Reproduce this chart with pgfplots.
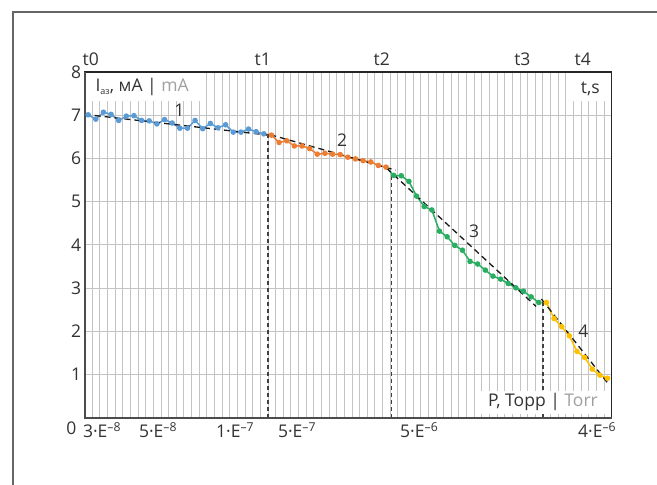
\documentclass[border=0pt]{standalone}
\usepackage{pgfplots}
\pgfplotsset{compat=1.18}
\usepackage{pgfplotstable}
\usepackage{fontspec}
\setmainfont{Open Sans}
\definecolor{cblue}{HTML}{5B9BD5}
\definecolor{corange}{HTML}{ED7D31}
\definecolor{cgreen}{HTML}{27AE60}
\definecolor{cyellow}{HTML}{FFC000}
\definecolor{txt}{HTML}{333333}
\definecolor{txtg}{HTML}{A0A0A0}
\definecolor{gridc}{HTML}{C4C4C4}
\newcommand{\fsz}{\fontsize{17.5bp}{21bp}\selectfont}
\pgfplotstableread{
x y
0.45 7.01
1.45 6.91
2.45 7.07
3.45 7.02
4.45 6.88
5.45 6.98
6.45 6.99
7.45 6.88
8.45 6.87
9.45 6.80
10.45 6.90
11.45 6.82
12.45 6.70
13.45 6.70
14.45 6.88
15.45 6.69
16.45 6.81
17.45 6.71
18.45 6.78
19.45 6.61
20.45 6.61
21.45 6.68
22.45 6.62
23.45 6.57
}\blue
\pgfplotstableread{
x y
23.45 6.57
24.45 6.54
25.45 6.37
26.45 6.41
27.45 6.29
28.45 6.29
29.45 6.23
30.45 6.10
31.45 6.12
32.45 6.10
33.45 6.09
34.45 6.03
35.45 5.99
36.45 5.95
37.45 5.92
38.45 5.84
39.45 5.80
}\orange
\pgfplotstableread{
x y
39.45 5.80
40.45 5.61
41.45 5.60
42.45 5.47
43.45 5.13
44.45 4.89
45.45 4.81
46.45 4.32
47.45 4.19
48.45 3.99
49.45 3.88
50.45 3.62
51.45 3.56
52.45 3.42
53.45 3.28
54.45 3.21
55.45 3.11
56.45 3.01
57.45 2.93
58.45 2.80
59.45 2.67
}\green
\pgfplotstableread{
x y
59.45 2.67
60.45 2.67
61.45 2.30
62.45 2.11
63.45 1.90
64.45 1.54
65.45 1.40
66.45 1.13
67.45 0.99
68.45 0.92
}\yellow
\begin{document}
\begin{tikzpicture}[x=1bp,y=1bp]
\useasboundingbox (0,0) rectangle (657,485);
\draw[line width=1.6bp, color=black!60] (13,-5) -- (13,473) -- (670,473);
\begin{axis}[
  at={(84.7bp,67bp)}, anchor=south west,
  scale only axis, width=527bp, height=346bp,
  xmin=0, xmax=69, ymin=0, ymax=8,
  clip=false,
  font=\fsz,
  /pgf/number format/assume math mode=true,
  ticklabel style={font=\fsz, text=txt},
  xticklabel style={yshift=-1bp},
  xtick={2.27,9.6,19.7,27.8,43.8,67.1},
  xticklabels={3·E\textsuperscript{–8},5·E\textsuperscript{–8},1·E\textsuperscript{–7},5·E\textsuperscript{–7},5·E\textsuperscript{–6},4·E\textsuperscript{–6}},
  minor xtick={1,...,68},
  xminorgrids=true, xmajorgrids=false,
  ytick={0,...,8},
  yticklabels={,1,2,3,4,5,6,7,8},
  ymajorgrids=true,
  major tick length=0, minor tick length=0,
  grid style={line width=1bp, gridc},
  minor grid style={line width=1bp, gridc},
  axis line style={line width=1.3bp, black!85},
  every axis plot/.append style={line width=1.5bp},
]
\addplot[cblue, mark=*, mark size=2bp] table {\blue};
\addplot[corange, mark=*, mark size=2bp, mark phase=2] table {\orange};
\addplot[cgreen, mark=*, mark size=2bp, mark phase=2] table {\green};
\addplot[cyellow, mark=*, mark size=2bp, mark phase=2] table {\yellow};
% trend lines
\addplot[black!90, line width=1.3bp, dash pattern=on 6bp off 4bp] coordinates {(0,7.02) (24.6,6.53)};
\addplot[black!90, line width=1.3bp, dash pattern=on 6bp off 4bp] coordinates {(24.3,6.55) (40.7,5.73)};
\addplot[black!90, line width=1.3bp, dash pattern=on 6bp off 4bp] coordinates {(39.5,5.78) (59.1,2.58)};
\addplot[black!90, line width=1.3bp, dash pattern=on 6bp off 4bp] coordinates {(59.8,2.75) (68.6,0.78)};
% vertical dashed markers
\addplot[black!75, line width=1.2bp, dash pattern=on 4bp off 3bp] coordinates {(24,0) (24,6.53)};
\addplot[black!75, line width=1.2bp, dash pattern=on 4bp off 3bp] coordinates {(40.2,0) (40.2,5.66)};
\addplot[black!75, line width=1.2bp, dash pattern=on 4bp off 3bp] coordinates {(60,0) (60,2.69)};
% label boxes
\fill[white] (axis cs:0.2,7.97) rectangle (axis cs:15.1,7.32);
\node[anchor=west, text=txt, inner sep=0] at (axis cs:1.4,7.66) {I\raisebox{-3bp}{\fontsize{9bp}{9bp}\selectfont аз}, мА | \textcolor{txtg}{mA}};
\fill[white] (axis cs:63.9,7.97) rectangle (axis cs:68.2,7.33);
\node[text=txt, inner sep=0] at (axis cs:66.2,7.62) {t,s};
\fill[white] (axis cs:51.8,0.62) rectangle (axis cs:68.5,0.09);
\node[text=txt, inner sep=0] at (axis cs:60.0,0.36) {P, Торр | \textcolor{txtg}{Torr}};
% zero label on y axis
\node[text=txt, anchor=east, inner sep=0, font=\fsz] at ([xshift=-8bp,yshift=-10bp]axis cs:0,0) {0};
% segment numbers
\node[text=txt, inner sep=0] at (axis cs:12.4,7.12) {1};
\node[text=txt, inner sep=0] at (axis cs:33.7,6.43) {2};
\node[text=txt, inner sep=0] at (axis cs:51.0,4.31) {3};
\node[text=txt, inner sep=0] at (axis cs:65.3,2.0) {4};
% t labels
\node[text=txt, inner sep=0] at (axis cs:0.8,8.3) {t0};
\node[text=txt, inner sep=0] at (axis cs:23.3,8.3) {t1};
\node[text=txt, inner sep=0] at (axis cs:38.9,8.3) {t2};
\node[text=txt, inner sep=0] at (axis cs:57.3,8.3) {t3};
\node[text=txt, inner sep=0] at (axis cs:65.2,8.3) {t4};
\draw[line width=2bp, black!70] (rel axis cs:0,1) -- (rel axis cs:0,0) -- (rel axis cs:1,0);
\end{axis}
\end{tikzpicture}
\end{document}
